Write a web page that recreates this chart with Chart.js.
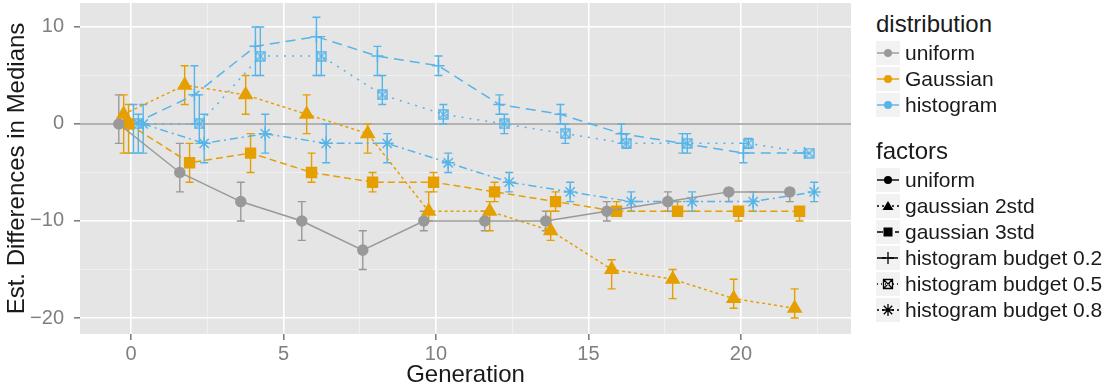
<!DOCTYPE html>
<html>
<head>
<meta charset="utf-8">
<script src="https://cdn.jsdelivr.net/npm/chart.js@4.4.1/dist/chart.umd.min.js"></script>
<style>
  body { margin: 0; background: #fff; font-family: "Liberation Sans", Arial, sans-serif; }
  #wrap { position: relative; width: 1109px; height: 389px; overflow: hidden; }
  #chart { position: absolute; left: 0; top: 0; }
  .legend { position: absolute; left: 876px; color: #1a1a1a; }
  .ltitle { font-size: 24px; line-height: 24px; margin-bottom: 5px; }
  .row { display: flex; align-items: center; height: 24px; margin-bottom: 2px; }
  .row canvas { width: 24px; height: 24px; margin-right: 5px; }
  .row span { font-size: 21px; line-height: 24px; white-space: nowrap; }
</style>
</head>
<body>
<div id="wrap">
  <canvas id="chart" width="855" height="389"></canvas>
  <div class="legend" style="top:12px">
    <div class="ltitle">distribution</div>
    <div id="leg-dist"></div>
  </div>
  <div class="legend" style="top:139px">
    <div class="ltitle">factors</div>
    <div id="leg-fact"></div>
  </div>
</div>
<script>
// ── Data ──────────────────────────────────────────────────────────────────────
const GENERATIONS = [0, 2, 4, 6, 8, 10, 12, 14, 16, 18, 20, 22];
const DISTRIBUTIONS = ['uniform', 'Gaussian', 'histogram'];
const FACTORS = ['uniform', 'gaussian 2std', 'gaussian 3std',
                 'histogram budget 0.2', 'histogram budget 0.5', 'histogram budget 0.8'];
const X_TICKS = [0, 5, 10, 15, 20];
const Y_TICKS = [-20, -10, 0, 10];

// median differences + error bar ends, one trio per factor
const uniformMed = [0, -5, -8, -10, -13, -10, -10, -10, -9, -8, -7, -7];
const uniformHi  = [3, -2, -6, -8, -11, -9, -9, -9, -8, -7, -7, -7];
const uniformLo  = [-2, -7, -10, -12, -15, -11, -11, -11, -10, -9, -8, -8];

const gauss2Med = [1, 4, 3, 1, -1, -9, -9, -11, -15, -16, -18, -19];
const gauss2Hi  = [3, 6, 5, 3, 0, -7, -8, -9, -14, -15, -16, -17];
const gauss2Lo  = [-3, 2, 1, -1, -3, -10, -11, -12, -17, -18, -19, -20];

const gauss3Med = [0, -4, -3, -5, -6, -6, -7, -8, -9, -9, -9, -9];
const gauss3Hi  = [2, -2, -1, -3, -5, -5, -6, -7, -8, -8, -9, -9];
const gauss3Lo  = [-3, -6, -5, -6, -7, -7, -8, -9, -9, -9, -10, -10];

const hist02Med = [0, 3, 8, 9, 7, 6, 2, 1, -1, -2, -3, -3];
const hist02Hi  = [2, 6, 10, 11, 8, 7, 3, 2, 0, -1, -2, -3];
const hist02Lo  = [-3, 0, 5, 5, 5, 5, 1, 0, -2, -3, -4, -3];

const hist05Med = [0, 0, 7, 7, 3, 1, 0, -1, -2, -2, -2, -3];
const hist05Hi  = [1, 3, 10, 9, 5, 2, 1, 0, -1, -1, -1.5, -3];
const hist05Lo  = [-3, -2, 5, 5, 2, 0, -1, -2, -2.5, -3, -2.5, -3];

const hist08Med = [0, -2, -1, -2, -2, -4, -6, -7, -8, -8, -8, -7];
const hist08Hi  = [2, 1, 1, 0, -1, -3, -5, -6, -7, -7, -7, -6];
const hist08Lo  = [-3, -4, -3, -4, -4, -5, -7, -8, -9, -9, -9, -8];

// ── Styling ───────────────────────────────────────────────────────────────────
const DIST_COLORS = { uniform: '#999999', Gaussian: '#E69F00', histogram: '#56B4E9' };
const DODGE = [-0.4, -0.24, -0.08, 0.08, 0.24, 0.4];
const X_MIN = -1.672, X_MAX = 23.607, Y_MIN = -21.65, Y_MAX = 12.47;

function boxCross(color, s) {
  const c = document.createElement('canvas');
  c.width = c.height = s;
  const g = c.getContext('2d');
  g.strokeStyle = color; g.lineWidth = 1.4;
  g.strokeRect(1, 1, s - 2, s - 2);
  g.beginPath();
  g.moveTo(1, 1); g.lineTo(s - 1, s - 1);
  g.moveTo(s - 1, 1); g.lineTo(1, s - 1);
  g.stroke();
  return c;
}

// keyDash = how the line type looks inside the small legend key
const SERIES = [
  { dist: 'uniform',   med: uniformMed, hi: uniformHi, lo: uniformLo, dash: [],           keyDash: [],     shape: 'circle',   r: 5 },
  { dist: 'Gaussian',  med: gauss2Med,  hi: gauss2Hi,  lo: gauss2Lo,  dash: [3, 3],       keyDash: [2, 3], shape: 'triangle', r: 7.5 },
  { dist: 'Gaussian',  med: gauss3Med,  hi: gauss3Hi,  lo: gauss3Lo,  dash: [7, 4],       keyDash: [6, 3], shape: 'rect',     r: 7 },
  { dist: 'histogram', med: hist02Med,  hi: hist02Hi,  lo: hist02Lo,  dash: [10, 6],      keyDash: [9, 3], shape: 'cross',    r: 6 },
  { dist: 'histogram', med: hist05Med,  hi: hist05Hi,  lo: hist05Lo,  dash: [2, 6],       keyDash: [1, 3], shape: 'boxcross', r: 6 },
  { dist: 'histogram', med: hist08Med,  hi: hist08Hi,  lo: hist08Lo,  dash: [8, 4, 2, 4], keyDash: [2, 3], shape: 'star',     r: 6.5 },
];

const datasets = SERIES.map((s, k) => {
  const color = DIST_COLORS[s.dist];
  return {
    label: FACTORS[k],
    data: GENERATIONS.map((g, i) => ({ x: g + DODGE[k], y: s.med[i] })),
    errHi: s.hi, errLo: s.lo,
    showLine: true,
    borderColor: color,
    backgroundColor: color,
    borderWidth: 1.5,
    borderDash: s.dash,
    pointStyle: s.shape === 'boxcross' ? boxCross(color, 11) : s.shape,
    pointRadius: s.r,
    pointHoverRadius: s.r,
    pointBorderWidth: 1.5,
    pointBackgroundColor: color,
    pointBorderColor: color,
  };
});

// ── Plugins ───────────────────────────────────────────────────────────────────
const panel = {
  id: 'panel',
  beforeDraw(chart) {
    const { ctx, chartArea: a } = chart;
    ctx.save();
    ctx.fillStyle = '#E5E5E5';
    ctx.fillRect(a.left, a.top, a.right - a.left, a.bottom - a.top);
    ctx.restore();
  },
  beforeDatasetsDraw(chart) {
    const { ctx, chartArea: a, scales: { x, y } } = chart;
    ctx.save();
    // zero reference line
    const y0 = y.getPixelForValue(0);
    ctx.strokeStyle = '#9A9A9A'; ctx.lineWidth = 1.4;
    ctx.beginPath(); ctx.moveTo(a.left, y0); ctx.lineTo(a.right, y0); ctx.stroke();
    // error bars
    chart.data.datasets.forEach(ds => {
      ctx.strokeStyle = ds.borderColor; ctx.lineWidth = 1.4;
      ds.data.forEach((p, i) => {
        const hi = ds.errHi[i], lo = ds.errLo[i];
        if (hi === lo) return;
        const px = x.getPixelForValue(p.x);
        const y1 = y.getPixelForValue(hi), y2 = y.getPixelForValue(lo);
        ctx.beginPath();
        ctx.moveTo(px, y1); ctx.lineTo(px, y2);
        ctx.moveTo(px - 4, y1); ctx.lineTo(px + 4, y1);
        ctx.moveTo(px - 4, y2); ctx.lineTo(px + 4, y2);
        ctx.stroke();
      });
    });
    ctx.restore();
  }
};

const fmt = v => (v < 0 ? '\u2212' + Math.abs(v) : String(v));
// edge ticks get null labels so Chart.js adds no label padding round the panel
const X_GRID = [X_MIN, 0, 2.5, 5, 7.5, 10, 12.5, 15, 17.5, 20, 22.5, X_MAX];
const Y_GRID = [Y_MIN, -20, -15, -10, -5, 0, 5, 10, Y_MAX];
const tickLabel = (major, v) => {
  if (v === X_MIN || v === X_MAX || v === Y_MIN || v === Y_MAX) return null;
  return major.includes(v) ? fmt(v) : '';
};

new Chart(document.getElementById('chart'), {
  type: 'scatter',
  data: { datasets },
  options: {
    responsive: false,
    animation: false,
    layout: { autoPadding: false, padding: { top: 3, right: 4, left: 0, bottom: 0 } },
    plugins: { legend: { display: false }, tooltip: { enabled: false } },
    scales: {
      x: {
        type: 'linear', min: X_MIN, max: X_MAX,
        afterBuildTicks: s => { s.ticks = X_GRID.map(v => ({ value: v })); },
        afterFit: s => { s.height = 55; s.paddingLeft = 0; s.paddingRight = 0; },
        ticks: {
          autoSkip: false, maxRotation: 0, padding: 2,
          color: '#7F7F7F', font: { family: 'Liberation Sans', size: 20 },
          callback: v => tickLabel(X_TICKS, v),
        },
        grid: {
          color: c => (X_TICKS.includes(c.tick.value) ? '#FFFFFF' : '#F2F2F2'),
          lineWidth: c => (X_TICKS.includes(c.tick.value) ? 1.6 : 0.8),
          tickColor: c => (X_TICKS.includes(c.tick.value) ? '#7F7F7F' : 'rgba(0,0,0,0)'),
          tickLength: 6,
        },
        border: { display: false },
        title: {
          display: true, text: 'Generation', color: '#1a1a1a',
          font: { family: 'Liberation Sans', size: 24 }, padding: { top: 0, bottom: -1 },
        },
      },
      y: {
        type: 'linear', min: Y_MIN, max: Y_MAX,
        afterBuildTicks: s => { s.ticks = Y_GRID.map(v => ({ value: v })); },
        afterFit: s => { s.width = 80; s.paddingTop = 0; s.paddingBottom = 0; },
        ticks: {
          autoSkip: false, padding: 10,
          color: '#7F7F7F', font: { family: 'Liberation Sans', size: 20 },
          callback: v => tickLabel(Y_TICKS, v),
        },
        grid: {
          color: c => (Y_TICKS.includes(c.tick.value) ? '#FFFFFF' : '#F2F2F2'),
          lineWidth: c => (Y_TICKS.includes(c.tick.value) ? 1.6 : 0.8),
          tickColor: c => (Y_TICKS.includes(c.tick.value) ? '#7F7F7F' : 'rgba(0,0,0,0)'),
          tickLength: 6,
        },
        border: { display: false },
        title: {
          display: true, text: 'Est. Differences in Medians', color: '#1a1a1a',
          font: { family: 'Liberation Sans', size: 24 }, padding: { top: 3, bottom: 0 },
        },
      },
    },
  },
  plugins: [panel],
});

// ── Legend ────────────────────────────────────────────────────────────────────
function drawMarker(g, shape, cx, cy, color) {
  g.fillStyle = color; g.strokeStyle = color; g.lineWidth = 1.3;
  g.beginPath();
  if (shape === 'circle') { g.arc(cx, cy, 4, 0, Math.PI * 2); g.fill(); }
  else if (shape === 'triangle') { g.moveTo(cx, cy - 5); g.lineTo(cx + 5.5, cy + 4); g.lineTo(cx - 5.5, cy + 4); g.closePath(); g.fill(); }
  else if (shape === 'rect') { g.rect(cx - 4.5, cy - 4.5, 9, 9); g.fill(); }
  else if (shape === 'cross') { g.moveTo(cx - 6, cy); g.lineTo(cx + 6, cy); g.moveTo(cx, cy - 6); g.lineTo(cx, cy + 6); g.stroke(); }
  else if (shape === 'boxcross') {
    g.rect(cx - 4.5, cy - 4.5, 9, 9);
    g.moveTo(cx - 4.5, cy - 4.5); g.lineTo(cx + 4.5, cy + 4.5);
    g.moveTo(cx + 4.5, cy - 4.5); g.lineTo(cx - 4.5, cy + 4.5); g.stroke();
  } else if (shape === 'star') {
    for (let k = 0; k < 4; k++) {
      const a = k * Math.PI / 4;
      g.moveTo(cx - 6 * Math.cos(a), cy - 6 * Math.sin(a));
      g.lineTo(cx + 6 * Math.cos(a), cy + 6 * Math.sin(a));
    }
    g.stroke();
  }
}

function legendRow(parent, label, color, dash, shape) {
  const row = document.createElement('div'); row.className = 'row';
  const c = document.createElement('canvas'); c.width = 24; c.height = 24;
  const g = c.getContext('2d');
  g.fillStyle = '#F2F2F2'; g.fillRect(0, 0, 24, 24);
  g.strokeStyle = color; g.lineWidth = 1.4; g.setLineDash(dash);
  g.beginPath(); g.moveTo(1, 12); g.lineTo(23, 12); g.stroke();
  g.setLineDash([]);
  drawMarker(g, shape, 12, 12, color);
  const sp = document.createElement('span'); sp.textContent = label;
  row.appendChild(c); row.appendChild(sp);
  parent.appendChild(row);
}

const legDist = document.getElementById('leg-dist');
DISTRIBUTIONS.forEach(d => legendRow(legDist, d, DIST_COLORS[d], [], 'circle'));
const legFact = document.getElementById('leg-fact');
SERIES.forEach((s, k) => legendRow(legFact, FACTORS[k], '#000000', s.keyDash, s.shape));
</script>
</body>
</html>
